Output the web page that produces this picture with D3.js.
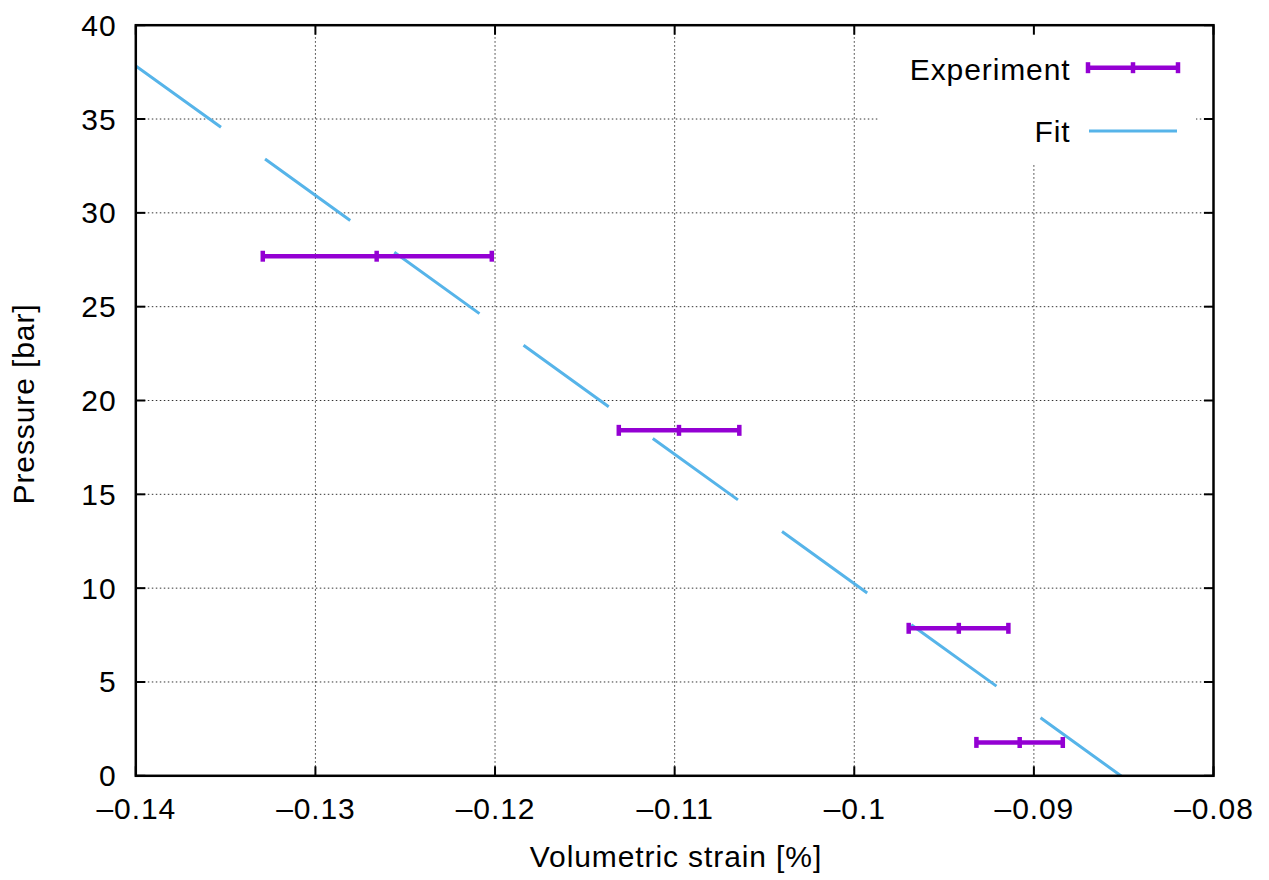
<!DOCTYPE html>
<html>
<head>
<meta charset="utf-8">
<script src="https://cdn.jsdelivr.net/npm/d3@7"></script>
<style>
  html, body { margin: 0; padding: 0; background: #fff; }
  svg { display: block; }
  text { font-family: "Liberation Sans", Arial, Helvetica, sans-serif; fill: #000; letter-spacing: 0.9px; }
</style>
</head>
<body>
<svg id="chart" width="1269" height="880"></svg>
<script>
// ---- data ----
const xTicks = [-0.14, -0.13, -0.12, -0.11, -0.10, -0.09, -0.08];
const xTickLabels = ["–0.14", "–0.13", "–0.12", "–0.11", "–0.1", "–0.09", "–0.08"];
const yTicks = [0, 5, 10, 15, 20, 25, 30, 35, 40];
const yTickLabels = ["0", "5", "10", "15", "20", "25", "30", "35", "40"];

const expStrain    = [-0.12659, -0.10976, -0.09418, -0.09079];
const expStrainMin = [-0.13293, -0.11311, -0.09697, -0.09320];
const expStrainMax = [-0.12018, -0.10640, -0.09142, -0.08839];
const expPressure  = [27.69, 18.41, 7.86, 1.78];

// linear fit  P = fitSlope * strain + fitIntercept
const fitSlope = -689.7;
const fitIntercept = -58.73;

const xLabel = "Volumetric strain [%]";
const yLabel = "Pressure [bar]";
const legendLabels = ["Experiment", "Fit"];

// ---- layout ----
const W = 1269, H = 880;
const L = 135.8, R = 1213.5, T = 25.2, B = 775.8;
const purple = "#9400D3", blue = "#56B4E9";
const fontSize = 30;

const svg = d3.select("#chart");
const x = d3.scaleLinear().domain([-0.14, -0.08]).range([L, R]);
const y = d3.scaleLinear().domain([0, 40]).range([B, T]);

svg.append("defs").append("clipPath").attr("id", "clip")
  .append("rect").attr("x", L).attr("y", T).attr("width", R - L).attr("height", B - T);

// grid
const grid = svg.append("g");
grid.selectAll("line.gx").data(xTicks.slice(1, -1)).enter().append("line")
  .attr("x1", d => x(d)).attr("x2", d => x(d)).attr("y1", T).attr("y2", B)
  .attr("stroke", "#333").attr("stroke-width", 1).attr("stroke-dasharray", "1.5,2.5");
grid.selectAll("line.gy").data(yTicks.slice(1, -1)).enter().append("line")
  .attr("x1", L).attr("x2", R).attr("y1", d => y(d)).attr("y2", d => y(d))
  .attr("stroke", "#333").attr("stroke-width", 1).attr("stroke-dasharray", "1.5,2.5");

// legend background (covers the grid)
svg.append("rect").attr("x", 878).attr("y", T + 1.5).attr("width", 318).attr("height", 137)
  .attr("fill", "#fff");

// fit line
const plot = svg.append("g").attr("clip-path", "url(#clip)");
const fitX = x.domain();
plot.append("path")
  .datum(fitX.map(s => [s, fitSlope * s + fitIntercept]))
  .attr("d", d3.line().x(d => x(d[0])).y(d => y(d[1])))
  .attr("fill", "none").attr("stroke", blue).attr("stroke-width", 3)
  .attr("stroke-dasharray", "105,54.3");

// error bars
const eb = svg.append("g").attr("clip-path", "url(#clip)");
const capH = 5.5;
expStrain.forEach((s, i) => {
  const yy = y(expPressure[i]);
  eb.append("line").attr("x1", x(expStrainMin[i])).attr("x2", x(expStrainMax[i]))
    .attr("y1", yy).attr("y2", yy).attr("stroke", purple).attr("stroke-width", 4.5);
  [expStrainMin[i], s, expStrainMax[i]].forEach(v => {
    eb.append("line").attr("x1", x(v)).attr("x2", x(v))
      .attr("y1", yy - capH).attr("y2", yy + capH)
      .attr("stroke", purple).attr("stroke-width", 4.5);
  });
});

// frame
svg.append("rect").attr("x", L).attr("y", T).attr("width", R - L).attr("height", B - T)
  .attr("fill", "none").attr("stroke", "#000").attr("stroke-width", 2.5);

// ticks (inward, mirrored)
const tk = 9.5;
const ticks = svg.append("g").attr("stroke", "#000").attr("stroke-width", 2);
xTicks.forEach(v => {
  ticks.append("line").attr("x1", x(v)).attr("x2", x(v)).attr("y1", B).attr("y2", B - tk);
  ticks.append("line").attr("x1", x(v)).attr("x2", x(v)).attr("y1", T).attr("y2", T + tk);
});
yTicks.forEach(v => {
  ticks.append("line").attr("x1", L).attr("x2", L + tk).attr("y1", y(v)).attr("y2", y(v));
  ticks.append("line").attr("x1", R).attr("x2", R - tk).attr("y1", y(v)).attr("y2", y(v));
});

// tick labels
svg.selectAll("text.xt").data(xTicks).enter().append("text")
  .attr("x", d => x(d) + 0.5).attr("y", 819).attr("text-anchor", "middle")
  .attr("font-size", fontSize).text((d, i) => xTickLabels[i]);
svg.selectAll("text.yt").data(yTicks).enter().append("text")
  .attr("x", 116.5).attr("y", d => y(d) + 10.5).attr("text-anchor", "end")
  .attr("font-size", fontSize).text((d, i) => yTickLabels[i]);

// axis titles
svg.append("text").attr("x", 676).attr("y", 867).attr("text-anchor", "middle")
  .attr("font-size", fontSize).text(xLabel);
svg.append("text").attr("transform", "translate(33.5," + 404 + ") rotate(-90)")
  .attr("text-anchor", "middle").attr("font-size", fontSize).text(yLabel);

// legend
const lg = svg.append("g");
lg.append("text").attr("x", 1070.5).attr("y", 79.5).attr("text-anchor", "end")
  .attr("font-size", fontSize).text(legendLabels[0]);
lg.append("text").attr("x", 1070.5).attr("y", 141.5).attr("text-anchor", "end")
  .attr("font-size", fontSize).text(legendLabels[1]);
const ly = 67.7;
lg.append("line").attr("x1", 1088).attr("x2", 1178).attr("y1", ly).attr("y2", ly)
  .attr("stroke", purple).attr("stroke-width", 4.5);
[1088, 1133, 1178].forEach(px => {
  lg.append("line").attr("x1", px).attr("x2", px).attr("y1", ly - capH).attr("y2", ly + capH)
    .attr("stroke", purple).attr("stroke-width", 4.5);
});
lg.append("line").attr("x1", 1089).attr("x2", 1177).attr("y1", 131).attr("y2", 131)
  .attr("stroke", blue).attr("stroke-width", 3);
</script>
</body>
</html>
